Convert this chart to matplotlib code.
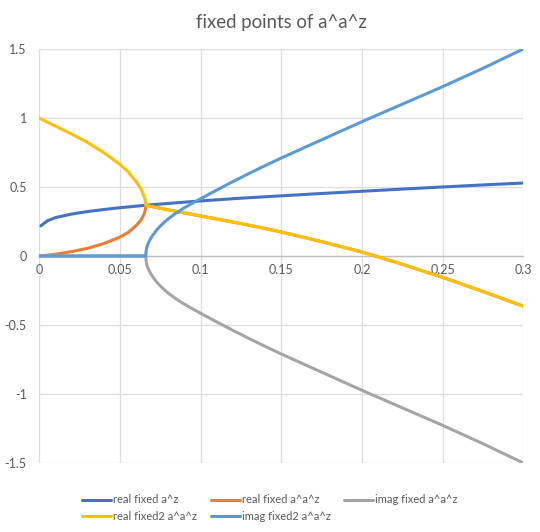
import matplotlib
matplotlib.use("Agg")
import matplotlib.pyplot as plt

plt.rcParams['font.family'] = ['Lato', 'DejaVu Sans']

# ---- data ----
# fixed point of a^z
x_az = [0.001, 0.005, 0.01, 0.02, 0.03, 0.04, 0.05, 0.06, 0.066, 0.08, 0.1,
        0.125, 0.15, 0.175, 0.2, 0.225, 0.25, 0.275, 0.3]
real_fixed_az = [0.219, 0.255, 0.278, 0.304, 0.322, 0.337, 0.350, 0.361, 0.368,
                 0.381, 0.399, 0.419, 0.436, 0.453, 0.469, 0.485, 0.500, 0.515, 0.529]

# before the bifurcation (two real 2-cycle fixed points)
x_pre = [0.0, 0.005, 0.01, 0.02, 0.03, 0.04, 0.05, 0.055, 0.06, 0.063, 0.065,
         0.0655, 0.0659, 0.066]
real_fixed_pre = [0.0, 0.006, 0.013, 0.0315, 0.056, 0.090, 0.137, 0.170, 0.220,
                  0.260, 0.305, 0.323, 0.348, 0.368]
real_fixed2_pre = [1.0, 0.969, 0.9415, 0.884, 0.822, 0.7485, 0.663, 0.611, 0.5385,
                   0.487, 0.430, 0.413, 0.388, 0.368]
imag_pre = [0.0] * len(x_pre)

# after the bifurcation (complex conjugate pair)
x_post = [0.0662, 0.0665, 0.067, 0.068, 0.069, 0.07, 0.0725, 0.075, 0.0775, 0.08,
          0.085, 0.09, 0.095, 0.1, 0.11, 0.12, 0.13, 0.14, 0.15, 0.175, 0.2,
          0.225, 0.25, 0.275, 0.3]
real_post = [0.367, 0.366, 0.365, 0.363, 0.360, 0.358, 0.352, 0.346, 0.340, 0.334,
             0.323, 0.312, 0.301, 0.290, 0.268, 0.246, 0.223, 0.199, 0.174, 0.104,
             0.029, -0.060, -0.155, -0.257, -0.364]
imag2_post = [0.035, 0.055, 0.078, 0.105, 0.126, 0.145, 0.185, 0.217, 0.245, 0.270,
              0.313, 0.350, 0.383, 0.415, 0.478, 0.539, 0.598, 0.655, 0.710, 0.842,
              0.973, 1.100, 1.227, 1.360, 1.500]
imag_post = [-v for v in imag2_post]

labels = ["real fixed a^z", "real fixed a^a^z", "imag fixed a^a^z",
          "real fixed2 a^a^z", "imag fixed2 a^a^z"]
colors = ["#4472C4", "#ED7D31", "#A5A5A5", "#FFC000", "#5B9BD5"]

x_ticks = [0, 0.05, 0.1, 0.15, 0.2, 0.25, 0.3]
x_ticklabels = ["0", "0.05", "0.1", "0.15", "0.2", "0.25", "0.3"]
y_ticks = [-1.5, -1, -0.5, 0, 0.5, 1, 1.5]
y_ticklabels = ["-1.5", "-1", "-0.5", "0", "0.5", "1", "1.5"]

# ---- figure ----
fig = plt.figure(figsize=(5.40, 5.32), dpi=100)
ax = fig.add_axes([0.0728, 0.1297, 0.8962, 0.7782])

x_full = x_pre + x_post
series = [
    (x_az, real_fixed_az),
    (x_full, real_fixed_pre + real_post),
    (x_full, imag_pre + imag_post),
    (x_full, real_fixed2_pre + real_post),
    (x_full, imag_pre + imag2_post),
]
handles = []
for (xs, ys), lab, c in zip(series, labels, colors):
    h, = ax.plot(xs, ys, color=c, lw=2.2, label=lab, solid_capstyle='round',
                 solid_joinstyle='round')
    handles.append(h)

ax.set_xlim(0, 0.3)
ax.set_ylim(-1.5, 1.5)
ax.set_xticks(x_ticks)
ax.set_xticklabels(x_ticklabels)
ax.set_yticks(y_ticks)
ax.set_yticklabels(y_ticklabels)
ax.grid(True, color="#DDDDDD", lw=0.9)
ax.set_axisbelow(True)
for s in ['top', 'right', 'left']:
    ax.spines[s].set_visible(False)
ax.spines['bottom'].set_position(('data', 0))
ax.spines['bottom'].set_color("#BFBFBF")
ax.spines['bottom'].set_linewidth(1.0)
ax.spines['bottom'].set_zorder(1)
ax.tick_params(axis='both', length=0, labelsize=9, colors="#595959", pad=6)
ax.tick_params(axis='y', pad=9)

ax.set_title("fixed points of a^a^z", fontsize=13.4, color="#595959", pad=15)

order = [0, 3, 1, 4, 2]
fig.legend([handles[i] for i in order], [labels[i] for i in order],
           loc='lower center', ncol=3, frameon=False, fontsize=8,
           handlelength=2.6, handletextpad=0.2, columnspacing=1.2,
           labelcolor="#595959", bbox_to_anchor=(0.5, 0.0), borderaxespad=0.5)

fig.savefig("out.png", dpi=100)
